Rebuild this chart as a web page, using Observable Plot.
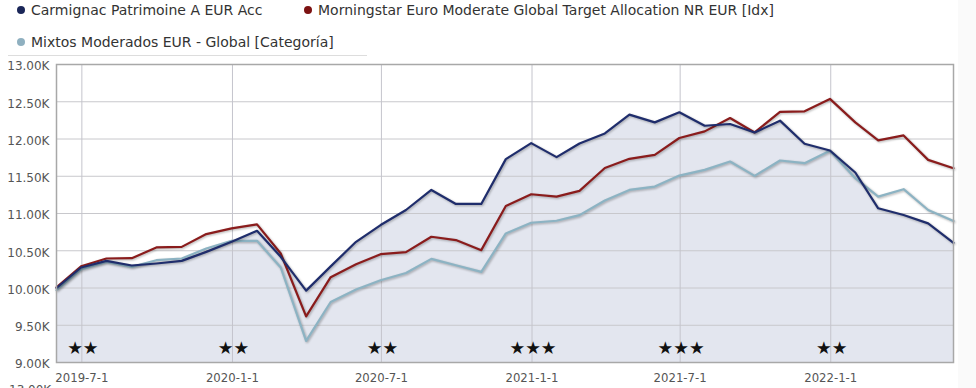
<!DOCTYPE html>
<html>
<head>
<meta charset="utf-8">
<script src="https://cdn.jsdelivr.net/npm/d3@7"></script>
<script src="https://cdn.jsdelivr.net/npm/@observablehq/plot@0.6"></script>
<style>
  html, body { margin: 0; padding: 0; background: #fff; width: 976px; height: 388px; overflow: hidden; position: relative; font-family: "DejaVu Sans", Verdana, sans-serif; }
  #legend { position: relative; height: 56px; width: 976px; }
  .item { position: absolute; font-size: 14px; color: #333; white-space: nowrap; line-height: 16px; }
  .dot { display: inline-block; width: 8px; height: 8px; border-radius: 50%; margin-right: 6px; vertical-align: 1px; }
  #divider { position: absolute; left: 8px; top: 55px; width: 359px; height: 1px; background: #ddd; }
  #chart { position: absolute; left: 0; top: 56px; }
  #strip { position: absolute; left: 958px; top: 0; width: 18px; height: 388px; background: #fafafa; }
  #cut { position: absolute; left: 9px; top: 383px; font-size: 12px; color: #555; }
</style>
</head>
<body>
<div id="strip"></div>
<div id="legend"></div>
<div id="chart"></div>
<div id="cut">13.00K</div>
<script>
const seriesNames = [
  "Carmignac Patrimoine A EUR Acc",
  "Morningstar Euro Moderate Global Target Allocation NR EUR [Idx]",
  "Mixtos Moderados EUR - Global [Categoría]"
];
const seriesColors = ["#1f2d6c", "#8a1c1c", "#8cb3c3"];
const dotColors = ["#1a2658", "#7c1212", "#8fb0c0"];

const dates = [
  "2019-05-31","2019-06-30","2019-07-31","2019-08-31","2019-09-30","2019-10-31","2019-11-30","2019-12-31",
  "2020-01-31","2020-02-29","2020-03-31","2020-04-30","2020-05-31","2020-06-30","2020-07-31","2020-08-31",
  "2020-09-30","2020-10-31","2020-11-30","2020-12-31","2021-01-31","2021-02-28","2021-03-31","2021-04-30",
  "2021-05-31","2021-06-30","2021-07-31","2021-08-31","2021-09-30","2021-10-31","2021-11-30","2021-12-31",
  "2022-01-31","2022-02-28","2022-03-31","2022-04-30","2022-05-31"
];
const fund = [
  10000,10275,10364,10302,10329,10364,10485,10620,10768,10418,9965,10290,10620,10845,11047,11316,
  11128,11128,11730,11945,11757,11940,12075,12327,12223,12358,12178,12201,12088,12246,11936,11846,
  11550,11070,10980,10868,10606
];
const benchmark = [
  10010,10292,10396,10400,10544,10552,10724,10800,10854,10463,9619,10145,10320,10454,10481,10688,
  10643,10508,11101,11258,11226,11303,11610,11734,11788,12013,12102,12282,12088,12363,12371,12538,
  12223,11981,12048,11720,11608
];
const category = [
  9970,10248,10350,10283,10373,10396,10530,10633,10633,10275,9290,9812,9979,10104,10202,10391,
  10306,10216,10733,10876,10903,10978,11175,11316,11361,11509,11586,11698,11505,11711,11676,11842,
  11474,11226,11326,11047,10899
];
const xTicks = ["2019-07-01","2020-01-01","2020-07-01","2021-01-01","2021-07-01","2022-01-01"];
const yTicks = [9000,9500,10000,10500,11000,11500,12000,12500,13000];
const ratingDates = ["2019-07-01","2020-01-01","2020-07-01","2021-01-01","2021-07-01","2022-01-01"];
const ratings = [2,2,2,3,3,2];

// legend
const legend = document.getElementById("legend");
const legendPos = [[17, 2], [304, 2], [17, 34]];
seriesNames.forEach((n, i) => {
  const d = document.createElement("div");
  d.className = "item";
  d.style.left = legendPos[i][0] + "px";
  d.style.top = legendPos[i][1] + "px";
  d.innerHTML = `<span class="dot" style="background:${dotColors[i]}"></span>${n}`;
  legend.appendChild(d);
});
const div = document.createElement("div");
div.id = "divider";
legend.appendChild(div);

const parse = d3.utcParse("%Y-%m-%d");
const table = dates.map((d, i) => ({date: parse(d), fund: fund[i], benchmark: benchmark[i], category: category[i]}));
const long = [];
const keys = ["fund", "benchmark", "category"];
table.forEach(r => keys.forEach((k, j) => long.push({date: r.date, value: r[k], series: seriesNames[j]})));
const xT = xTicks.map(parse);
const stars = ratingDates.map((d, i) => ({date: parse(d), text: "★".repeat(ratings[i])}));

const fmt = d3.utcFormat("%Y-%-m-%-d");

const plot = Plot.plot({
  width: 976,
  height: 332,
  marginLeft: 56,
  marginRight: 23,
  marginTop: 8,
  marginBottom: 26,
  style: {fontFamily: "DejaVu Sans, Verdana, sans-serif", fontSize: "11px", color: "#555", background: "transparent"},
  x: {type: "utc", domain: [table[0].date, table[table.length - 1].date]},
  y: {domain: [yTicks[0], yTicks[yTicks.length - 1]]},
  color: {domain: seriesNames, range: seriesColors},
  marks: [
    Plot.areaY(table, {x: "date", y1: yTicks[0], y2: "fund", fill: "#e3e6ef"}),
    Plot.gridY(yTicks, {stroke: "#c8c8cc", strokeOpacity: 1, strokeWidth: 1}),
    Plot.gridX(xT, {stroke: "#c4c4cc", strokeOpacity: 1, strokeWidth: 1}),
    Plot.axisY(yTicks, {tickSize: 0, tickPadding: 7, tickFormat: d => (d / 1000).toFixed(2) + "K", fill: "#555", fontSize: 12, dy: 2}),
    Plot.axisX(xT, {tickSize: 0, tickPadding: 11, tickFormat: fmt, fill: "#555", fontSize: 11.7}),
    Plot.lineY(long.filter(d => d.series === seriesNames[2]), {x: "date", y: "value", stroke: "series", strokeWidth: 2.2}),
    Plot.lineY(long.filter(d => d.series === seriesNames[1]), {x: "date", y: "value", stroke: "series", strokeWidth: 2.2}),
    Plot.lineY(long.filter(d => d.series === seriesNames[0]), {x: "date", y: "value", stroke: "series", strokeWidth: 2.2}),
    Plot.text(stars, {x: "date", text: "text", frameAnchor: "bottom", dy: -9, dx: 1, fontSize: 17.5, fill: "#111"}),
    Plot.frame({stroke: "#a8a8a8", strokeWidth: 1.5})
  ]
});
d3.select(plot).selectAll("g[aria-label=line] path").style("filter", "drop-shadow(1px 1.5px 1px rgba(0,0,0,0.3))");
document.getElementById("chart").appendChild(plot);
</script>
</body>
</html>
